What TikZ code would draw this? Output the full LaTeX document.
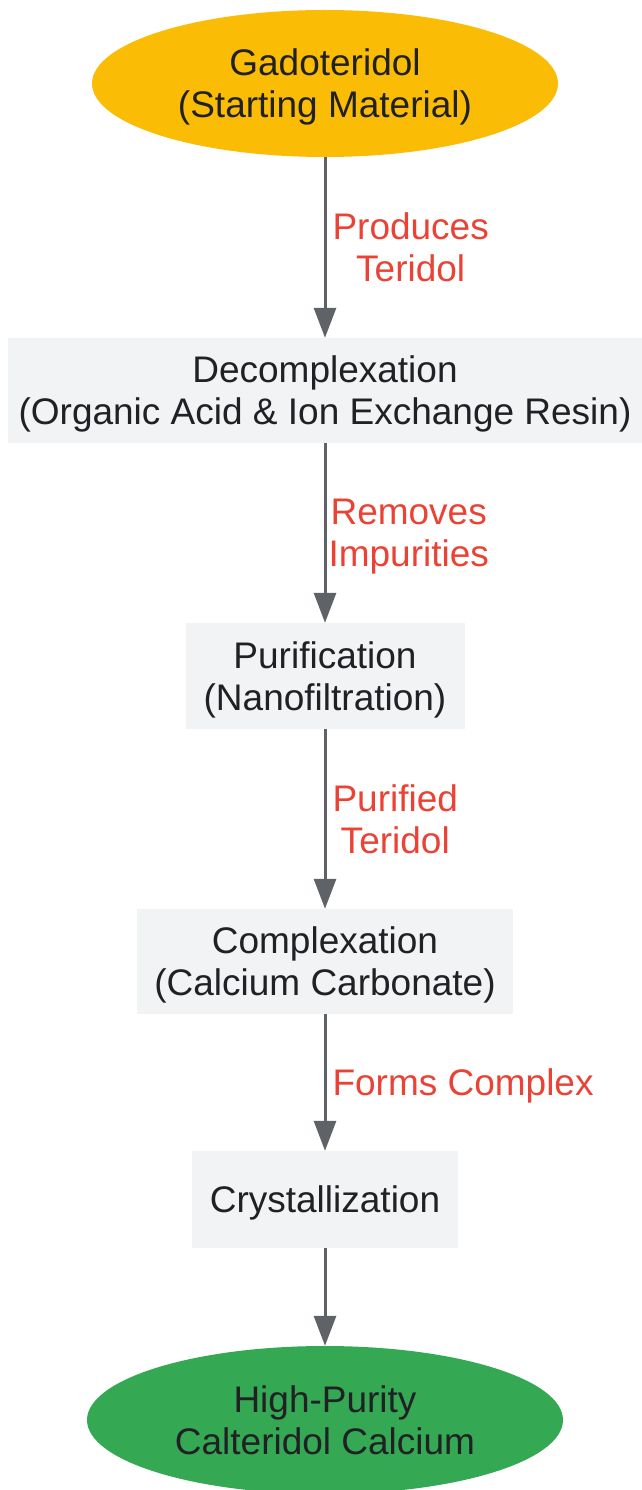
\documentclass[tikz,border=0pt]{standalone}
\usepackage{fontspec}
\setmainfont{Liberation Sans}
\usetikzlibrary{shapes.geometric,arrows.meta}

\definecolor{startyellow}{HTML}{FBBC05}
\definecolor{endgreen}{HTML}{34A853}
\definecolor{boxgray}{HTML}{F1F3F4}
\definecolor{linegray}{HTML}{5F6368}
\definecolor{lblred}{HTML}{EA4335}
\definecolor{txtdark}{HTML}{202124}

\tikzset{
    stepbox/.style={rectangle, fill=boxgray, draw=none, align=center, text=txtdark,
        font=\fontsize{37}{42}\selectfont, inner sep=0pt, text depth=0pt},
    endpoint/.style={ellipse, draw=none, align=center, text=txtdark,
        font=\fontsize{37}{42}\selectfont, inner sep=0pt, text depth=0pt},
    flow/.style={draw=linegray, line width=3pt, -{Triangle[width=22pt,length=30pt]}},
    edgelbl/.style={text=lblred, align=center, anchor=west, inner sep=0pt, xshift=6pt,
        font=\fontsize{37}{42}\selectfont, text depth=0pt}
}

\begin{document}
\begin{tikzpicture}[x=1pt, y=-1pt]
    \useasboundingbox (0,0) rectangle (642,1490);

    %% nodes
    \node[endpoint, fill=startyellow, minimum width=466pt, minimum height=147pt]
        (gado) at (325,83.5) {Gadoteridol\\(Starting Material)};
    \node[stepbox, minimum width=634pt, minimum height=105pt]
        (decomp) at (325,390.5) {Decomplexation\\(Organic Acid \& Ion Exchange Resin)};
    \node[stepbox, minimum width=279pt, minimum height=106pt]
        (purif) at (325,676) {Purification\\(Nanofiltration)};
    \node[stepbox, minimum width=376pt, minimum height=105pt]
        (complex) at (325,961.5) {Complexation\\(Calcium Carbonate)};
    \node[stepbox, minimum width=266pt, minimum height=97pt]
        (cryst) at (325,1199.5) {Crystallization};
    \node[endpoint, fill=endgreen, minimum width=476pt, minimum height=148pt]
        (calter) at (325,1420) {High-Purity\\Calteridol Calcium};

    %% edges
    \draw[flow] (gado) -- node[edgelbl] (lblA) {Produces\\Teridol} (decomp);
    \draw[flow] (decomp) -- node[edgelbl, xshift=-4pt] (lblB) {Removes\\Impurities} (purif);
    \draw[flow] (purif) -- node[edgelbl] (lblC) {Purified\\Teridol} (complex);
    \draw[flow] (complex) -- node[edgelbl] (lblD) {Forms Complex} (cryst);
    \draw[flow] (cryst) -- (calter);
\end{tikzpicture}
\end{document}
